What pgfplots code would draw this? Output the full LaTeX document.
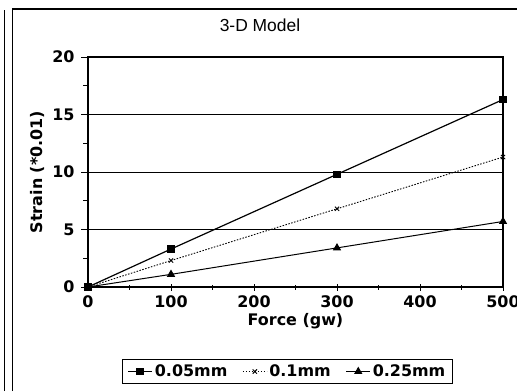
\documentclass[border=0pt]{standalone}
\usepackage{pgfplots}
\pgfplotsset{compat=1.18}
\usepackage{fontspec}
\setmainfont{DejaVu Sans}
\newfontfamily\titlefont{Liberation Sans}
\newcommand\bfs{\fontsize{16}{19}\selectfont\bfseries}
\begin{document}
\begin{tikzpicture}[x=1bp,y=1bp]
\path[use as bounding box] (0,0) rectangle (517,391);
\draw[line width=1.3bp] (4.5,0) -- (4.5,381);
\draw[line width=1.3bp] (12.5,0) -- (12.5,382) -- (517,382);
\node[font=\titlefont\fontsize{17.5}{20}\selectfont] at (260,366) {3-D Model};
\begin{axis}[
  at={(88bp,104bp)}, anchor=south west, scale only axis,
  width=415bp, height=230bp,
  xmin=0, xmax=500, ymin=0, ymax=20,
  xtick={0,100,...,500}, minor xtick={50,150,...,450},
  ytick={0,5,...,20}, minor ytick={2.5,7.5,...,17.5},
  xtick pos=bottom, ytick pos=left,
  xtick align=center, ytick align=outside,
  major tick length=7bp, minor tick length=5bp,
  tick style={black, line width=0.9bp},
  axis line style={line width=1.2bp},
  ymajorgrids, major grid style={black, line width=0.9bp},
  /pgf/number format/assume math mode=true,
  ticklabel style={font=\bfs},
  xticklabel style={yshift=-2bp},
  yticklabel style={xshift=-3bp},
  xlabel={Force (gw)}, ylabel={Strain (*0.01)},
  label style={font=\bfs},
  xlabel style={at={(axis description cs:0.5,-0.1478)}, anchor=center},
  ylabel style={at={(axis description cs:-0.1205,0.5)}, anchor=center},
  legend columns=3,
  legend style={at={(axis description cs:0.4807,-0.3674)}, anchor=center, draw=black, line width=1.2bp, font=\bfs, inner xsep=5bp, inner ysep=3bp, /tikz/every even column/.append style={column sep=13bp}},
  legend cell align=left,
  legend image code/.code={\draw[mark repeat=2,mark phase=2,#1] plot coordinates {(0bp,0bp) (12bp,0bp) (24bp,0bp)};},
  clip mode=individual,
]
\addplot[black, line width=1.2bp, mark=square*, mark size=3.2bp] coordinates {(0,0)(100,3.3)(300,9.8)(500,16.3)};
\addlegendentry{0.05mm}
\addplot[black, line width=0.9bp, dash pattern=on 1.5bp off 1.5bp, mark=x, mark size=3bp, mark options={solid}] coordinates {(0,0)(100,2.3)(300,6.8)(500,11.3)};
\addlegendentry{0.1mm}
\addplot[black, line width=1bp, mark=triangle*, mark size=3.8bp] coordinates {(0,0)(100,1.1)(300,3.4)(500,5.7)};
\addlegendentry{0.25mm}
\end{axis}
\end{tikzpicture}
\end{document}
